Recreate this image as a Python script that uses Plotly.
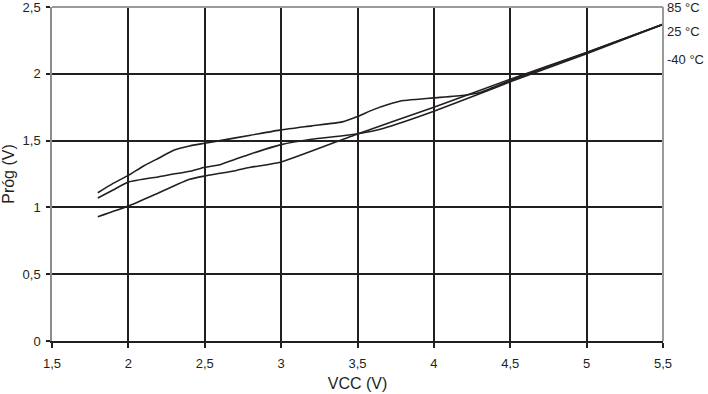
import plotly.graph_objects as go

# Data
x_85 = [1.8, 1.9, 2.0, 2.1, 2.2, 2.3, 2.4, 2.5, 2.6, 2.8, 3.0, 3.2, 3.4, 3.5, 3.6, 3.7, 3.8, 3.9, 4.0, 4.2, 4.3, 4.5, 5.0, 5.5]
y_85 = [1.11, 1.18, 1.24, 1.31, 1.37, 1.43, 1.46, 1.48, 1.50, 1.54, 1.58, 1.61, 1.64, 1.68, 1.73, 1.77, 1.80, 1.81, 1.82, 1.84, 1.86, 1.95, 2.16, 2.37]

x_25 = [1.8, 1.9, 2.0, 2.2, 2.4, 2.5, 2.6, 2.7, 2.8, 3.0, 3.2, 3.43, 3.63, 3.8, 4.0, 4.3, 4.5, 5.0, 5.5]
y_25 = [1.07, 1.13, 1.19, 1.23, 1.27, 1.30, 1.32, 1.36, 1.40, 1.47, 1.51, 1.54, 1.58, 1.64, 1.72, 1.85, 1.94, 2.15, 2.37]

x_m40 = [1.8, 2.0, 2.2, 2.4, 2.5, 2.6, 2.7, 2.8, 3.0, 3.5, 4.0, 4.5, 5.0, 5.5]
y_m40 = [0.93, 1.01, 1.11, 1.21, 1.235, 1.255, 1.275, 1.30, 1.34, 1.55, 1.75, 1.96, 2.16, 2.37]

x_ticks = [1.5, 2, 2.5, 3, 3.5, 4, 4.5, 5, 5.5]
x_ticklabels = ["1,5", "2", "2,5", "3", "3,5", "4", "4,5", "5", "5,5"]
y_ticks = [0, 0.5, 1, 1.5, 2, 2.5]
y_ticklabels = ["0", "0,5", "1", "1,5", "2", "2,5"]

labels = ["85 °C", "25 °C", "-40 °C"]
label_y = [2.5, 2.313, 2.11]

ink = "#231f20"
font = "Liberation Sans, Arial, sans-serif"

fig = go.Figure()
for xs, ys, name in [(x_85, y_85, labels[0]), (x_25, y_25, labels[1]), (x_m40, y_m40, labels[2])]:
    fig.add_trace(go.Scatter(x=xs, y=ys, mode="lines", name=name,
                             line=dict(color=ink, width=1.6, shape="spline", smoothing=0.5),
                             showlegend=False, hoverinfo="skip"))

fig.update_layout(
    width=708, height=394,
    margin=dict(l=52, r=45, t=7, b=53, autoexpand=False),
    paper_bgcolor="white", plot_bgcolor="white",
    font=dict(family=font, size=13, color=ink),
    xaxis=dict(range=[1.5, 5.5], tickvals=x_ticks, ticktext=x_ticklabels,
               showgrid=True, gridcolor=ink, gridwidth=2,
               showline=True, linecolor=ink, linewidth=2,
               ticks="outside", ticklen=5, tickwidth=2, tickcolor=ink,
               ticklabelstandoff=4, automargin=False, ticklabeloverflow="allow",
               zeroline=False, title=dict(text="VCC (V)", standoff=8)),
    yaxis=dict(range=[0, 2.5], tickvals=y_ticks, ticktext=y_ticklabels,
               showgrid=True, gridcolor=ink, gridwidth=2,
               showline=True, linecolor="#8c8c8c", linewidth=1.5,
               ticks="outside", ticklen=4, tickwidth=2, tickcolor=ink,
               ticklabelstandoff=3, automargin=False, ticklabeloverflow="allow",
               zeroline=False, title=dict(text="Próg (V)", standoff=12)),
    shapes=[
        dict(type="line", xref="paper", yref="paper", x0=0, x1=1, y0=1, y1=1,
             line=dict(color="#9a9a9a", width=2), layer="above"),
        dict(type="line", xref="paper", yref="paper", x0=1, x1=1, y0=0, y1=1,
             line=dict(color="#9a9a9a", width=2), layer="above"),
    ],
)

for t, yv in zip(labels, label_y):
    fig.add_annotation(text=t, xref="paper", x=1, xanchor="left", xshift=2,
                       yref="y", y=yv, yanchor="middle", showarrow=False,
                       font=dict(family=font, size=13, color=ink))

fig.write_html("out.html")
